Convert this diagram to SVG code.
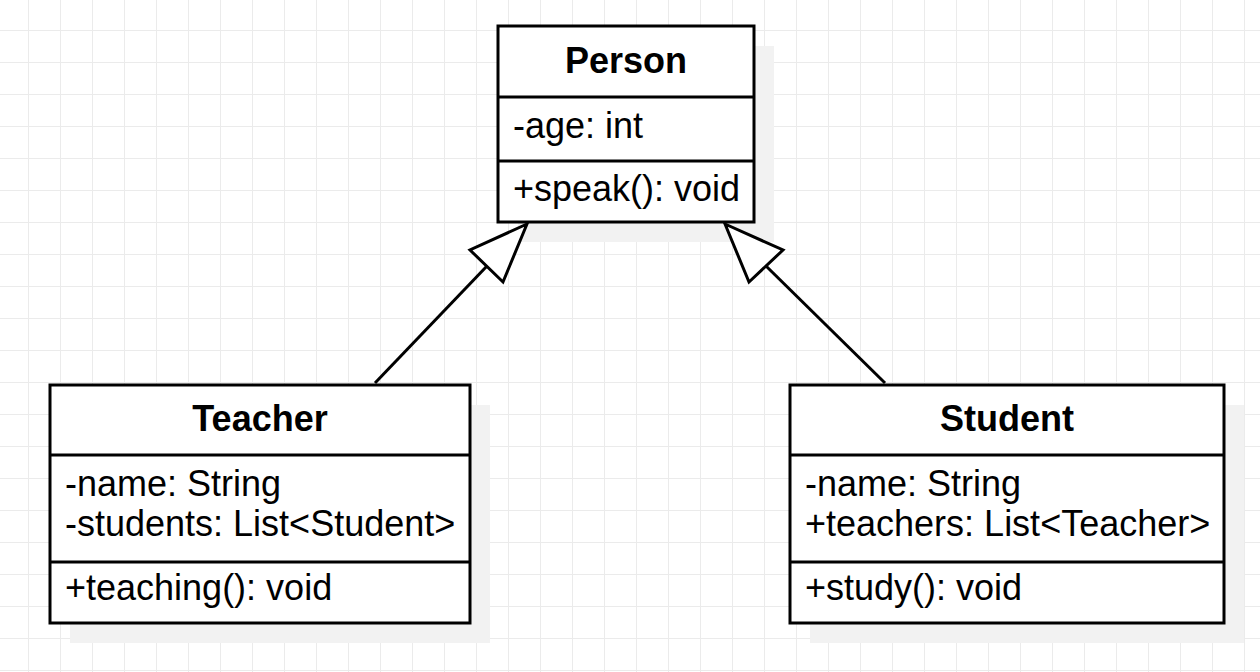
<svg xmlns="http://www.w3.org/2000/svg" width="1260" height="672" viewBox="0 0 1260 672">
<defs>
<pattern id="grid" x="28" y="30" width="32" height="32" patternUnits="userSpaceOnUse">
<path d="M0 0H32M0 0V32" fill="none" stroke="#ebebeb" stroke-width="2"/>
</pattern>
<style>
.box{fill:#fff;stroke:#000;stroke-width:3}
.shadow{fill:#f2f2f2}
.div{stroke:#000;stroke-width:3}
.title{font-family:"Liberation Sans",Arial,sans-serif;font-size:36px;font-weight:bold;text-anchor:middle;fill:#000}
.txt{font-family:"Liberation Sans",Arial,sans-serif;font-size:36px;fill:#000}
.edge{fill:none;stroke:#000;stroke-width:3}
.head{fill:#fff;stroke:#000;stroke-width:3;stroke-linejoin:miter}
</style>
</defs>
<rect width="1260" height="672" fill="#fff"/>
<rect width="1260" height="672" fill="url(#grid)"/>
<g id="person">
<rect class="shadow" x="518" y="46" width="256" height="196"/>
<rect class="box" x="498" y="26" width="256" height="196"/>
<line class="div" x1="498" y1="97" x2="754" y2="97"/>
<line class="div" x1="498" y1="161" x2="754" y2="161"/>
<text class="title" x="626" y="73">Person</text>
<text class="txt" x="513" y="138">-age: int</text>
<text class="txt" x="513" y="201">+speak(): void</text>
</g>
<g id="teacher">
<rect class="shadow" x="70" y="405" width="420" height="238"/>
<rect class="box" x="50" y="385" width="420" height="238"/>
<line class="div" x1="50" y1="455" x2="470" y2="455"/>
<line class="div" x1="50" y1="562" x2="470" y2="562"/>
<text class="title" x="260" y="431">Teacher</text>
<text class="txt" x="65" y="496">-name: String</text>
<text class="txt" x="65" y="536">-students: List&lt;Student&gt;</text>
<text class="txt" x="65" y="600">+teaching(): void</text>
</g>
<g id="student">
<rect class="shadow" x="810" y="405" width="434" height="238"/>
<rect class="box" x="790" y="385" width="434" height="238"/>
<line class="div" x1="790" y1="455" x2="1224" y2="455"/>
<line class="div" x1="790" y1="562" x2="1224" y2="562"/>
<text class="title" x="1007" y="431">Student</text>
<text class="txt" x="805" y="496">-name: String</text>
<text class="txt" x="805" y="536">+teachers: List&lt;Teacher&gt;</text>
<text class="txt" x="805" y="600">+study(): void</text>
</g>
<g id="connectors">
<line class="edge" x1="375" y1="383" x2="487" y2="266"/>
<polygon class="head" points="527,224 470,250 503,282"/>
<line class="edge" x1="885" y1="383" x2="766" y2="266"/>
<polygon class="head" points="725,224 783,250 749,282"/>
</g>
</svg>
